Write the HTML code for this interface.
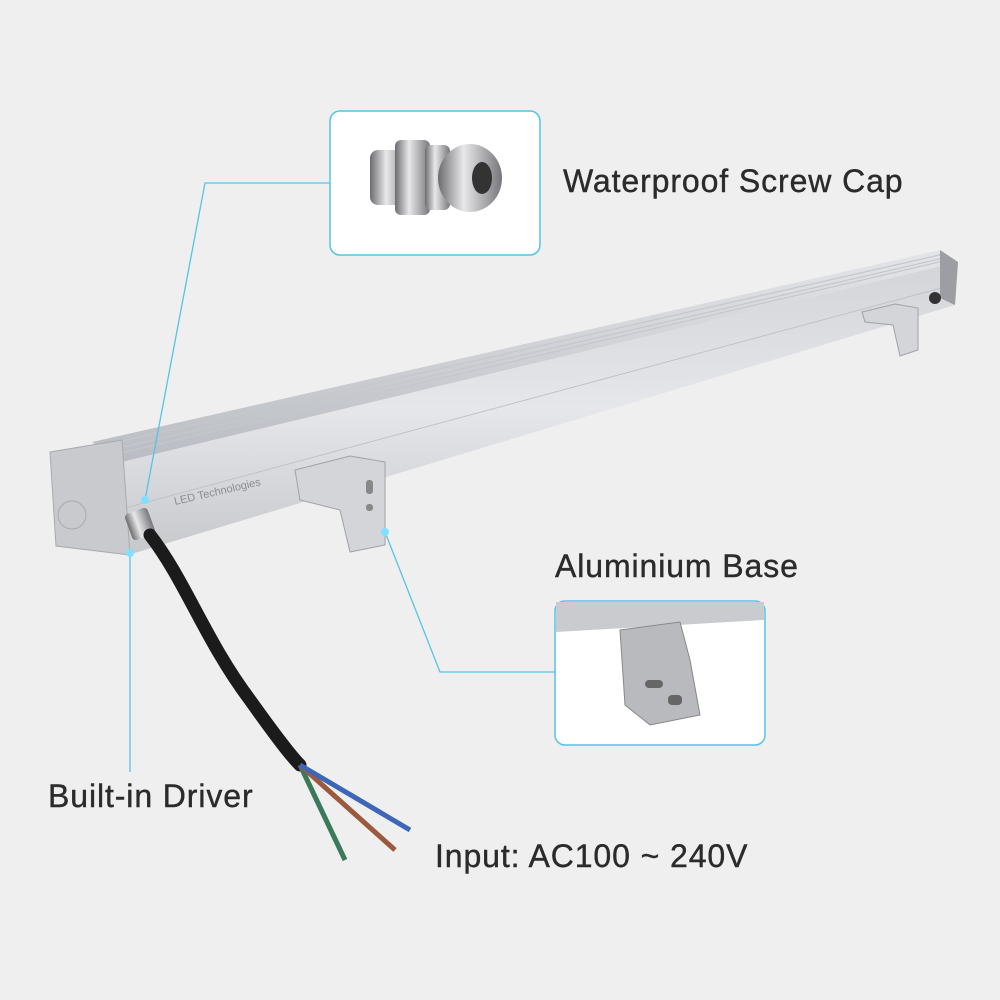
<!DOCTYPE html>
<html><head><meta charset="utf-8"><style>
html,body{margin:0;padding:0;background:#efefef;}
#c{position:relative;width:1000px;height:1000px;overflow:hidden;background:#efefef;font-family:"Liberation Sans",sans-serif;}
.t{position:absolute;color:#2b2b2b;font-size:32px;white-space:nowrap;letter-spacing:0.9px;-webkit-text-stroke:0.4px #2b2b2b;}
</style></head><body><div id="c">
<svg width="1000" height="1000" viewBox="0 0 1000 1000" style="position:absolute;left:0;top:0">
<defs>
<linearGradient id="top" x1="0" y1="0" x2="0" y2="1"><stop offset="0" stop-color="#e4e5e8"/><stop offset="1" stop-color="#b9bcc2"/></linearGradient>
<linearGradient id="front" x1="0" y1="0" x2="0" y2="1"><stop offset="0" stop-color="#d2d4d8"/><stop offset="0.5" stop-color="#e6e7ea"/><stop offset="1" stop-color="#c6c8cc"/></linearGradient>
<linearGradient id="metal" x1="0" y1="0" x2="1" y2="0"><stop offset="0" stop-color="#6c6c70"/><stop offset="0.4" stop-color="#e8e8ea"/><stop offset="1" stop-color="#77777b"/></linearGradient>
</defs>
<polygon points="92,442 940,250 958,262 122,462" fill="url(#top)"/>
<g stroke="#c4c7cc" stroke-width="1.2">
<line x1="100" y1="446" x2="944" y2="254"/><line x1="106" y1="451" x2="948" y2="257"/><line x1="112" y1="455" x2="952" y2="259"/>
</g>
<polygon points="122,462 958,262 955,305 128,555" fill="url(#front)"/>
<line x1="125" y1="508" x2="956" y2="284" stroke="#bfc2c7" stroke-width="1"/>
<polygon points="50,452 122,440 130,555 56,546" fill="#c9cacd" stroke="#a9aaae"/>
<circle cx="72" cy="515" r="14" fill="none" stroke="#a9aaae"/>
<polygon points="940,250 958,262 955,305 940,298" fill="#9c9ea3"/>
<circle cx="935" cy="298" r="6" fill="#333"/>
<polygon points="295,470 350,456 385,462 385,545 350,552 340,510 300,500" fill="#d4d5d8" stroke="#a0a2a6"/>
<rect x="366" y="480" width="7" height="14" rx="3" fill="#888"/><rect x="366" y="504" width="7" height="7" rx="3" fill="#888"/>
<polygon points="862,312 895,304 918,308 918,350 900,356 893,325 865,322" fill="#d4d5d8" stroke="#a0a2a6"/>
<text x="175" y="505" font-size="11" fill="#8a8c90" transform="rotate(-13 175 505)" font-family="Liberation Sans,sans-serif">LED Technologies</text>
<rect x="128" y="510" width="24" height="28" rx="4" fill="url(#metal)" transform="rotate(-20 140 524)"/>
<path d="M150,535 C185,580 205,640 250,700 C275,735 290,755 300,765" stroke="#1b1b1b" stroke-width="13" fill="none" stroke-linecap="round"/>
<path d="M300,765 L345,860" stroke="#3a7a5a" stroke-width="5"/>
<path d="M300,765 L395,850" stroke="#9b5a3e" stroke-width="5"/>
<path d="M300,765 L410,830" stroke="#3d66b8" stroke-width="5"/>
<g stroke="#56c3e6" stroke-width="1.3" fill="none">
<polyline points="330,183 205,183 145,500"/>
<line x1="130" y1="555" x2="130" y2="772"/>
<polyline points="385,532 440,672 555,672"/>
</g>
<circle cx="145" cy="500" r="4" fill="#7fe0ff"/><circle cx="130" cy="553" r="4" fill="#7fe0ff"/><circle cx="385" cy="532" r="4" fill="#7fe0ff"/>
<rect x="330" y="111" width="210" height="144" rx="10" fill="#fff" stroke="#56c3e6" stroke-width="1.5"/>
<g transform="translate(370,140)">
<rect x="0" y="10" width="40" height="55" rx="8" fill="url(#metal)"/>
<rect x="25" y="0" width="35" height="75" rx="6" fill="url(#metal)"/>
<rect x="55" y="5" width="25" height="65" rx="6" fill="url(#metal)"/>
<ellipse cx="100" cy="38" rx="32" ry="34" fill="url(#metal)"/>
<ellipse cx="112" cy="38" rx="10" ry="16" fill="#333"/>
</g>
<rect x="555" y="601" width="210" height="144" rx="10" fill="#fff" stroke="#56c3e6" stroke-width="1.5"/>
<polygon points="556,602 764,602 764,620 556,632" fill="#c9cbcf"/>
<polygon points="620,630 680,622 690,660 700,715 650,725 625,705" fill="#b8babe" stroke="#888"/>
<rect x="645" y="680" width="18" height="8" rx="4" fill="#666"/><rect x="668" y="695" width="14" height="10" rx="4" fill="#666"/>
</svg>
<div class="t" style="left:563px;top:163px">Waterproof Screw Cap</div>
<div class="t" style="left:555px;top:548px">Aluminium Base</div>
<div class="t" style="left:48px;top:778px">Built-in Driver</div>
<div class="t" style="left:435px;top:838px">Input: AC100 ~ 240V</div>
</div></body></html>
